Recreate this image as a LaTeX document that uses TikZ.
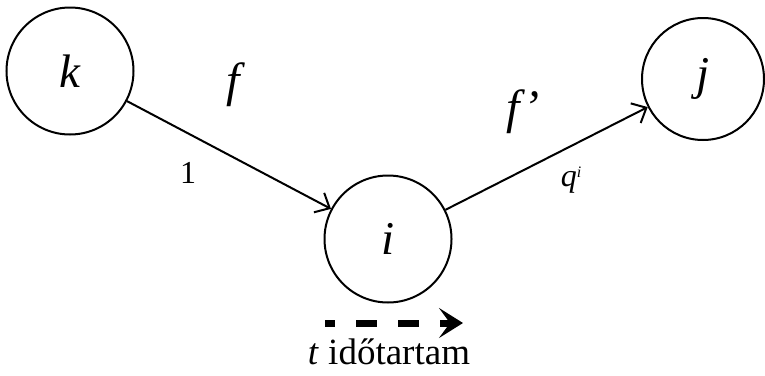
\documentclass[tikz,border=0pt]{standalone}
\usepackage{fontspec}
\setmainfont{Liberation Serif}
\usetikzlibrary{arrows.meta}

\begin{document}
\begin{tikzpicture}[x=1pt,y=-1pt,line width=2pt,
        state/.style={draw,circle,inner sep=0pt,minimum size=127pt,
                      font=\fontsize{47}{47}\selectfont\itshape},
        lbl/.style={font=\fontsize{48}{48}\selectfont\itshape},
        wgt/.style={font=\fontsize{32}{32}\selectfont}]
      \useasboundingbox (0,0) rectangle (765,375);
      \node[state] (k) at (70,71)  {k};
      \node[state] (i) at (388,239) {i};
      \node[state,minimum size=122pt] (j) at (703,79) {j};
      \foreach \a/\b in {k/i,i/j}{
        \draw[-{Straight Barb[length=12pt,width=22pt]}] (\a)--(\b);
      }
      \node[lbl] (f)  at (233,85)  {f};
      \node[lbl] (fp) at (523,112) {f’};
      \node[wgt] (w1) at (188,173) {1};
      \node[wgt,font=\fontsize{32}{32}\selectfont\itshape] (wq) at (571,180) {q\raisebox{0.3em}{\fontsize{16}{16}\selectfont i}};
      \coordinate (ts) at (325,323);
      \coordinate (te) at (463,323);
      \draw[line width=7pt,dash pattern=on 21pt off 21pt,dash phase=11pt,
            -{Stealth[length=24pt,width=30pt,inset=11pt]}] (ts)--(te);
      \node[font=\fontsize{37}{37}\selectfont] (dur) at (389,352) {\textit{t} időtartam};
    \end{tikzpicture}
\end{document}
